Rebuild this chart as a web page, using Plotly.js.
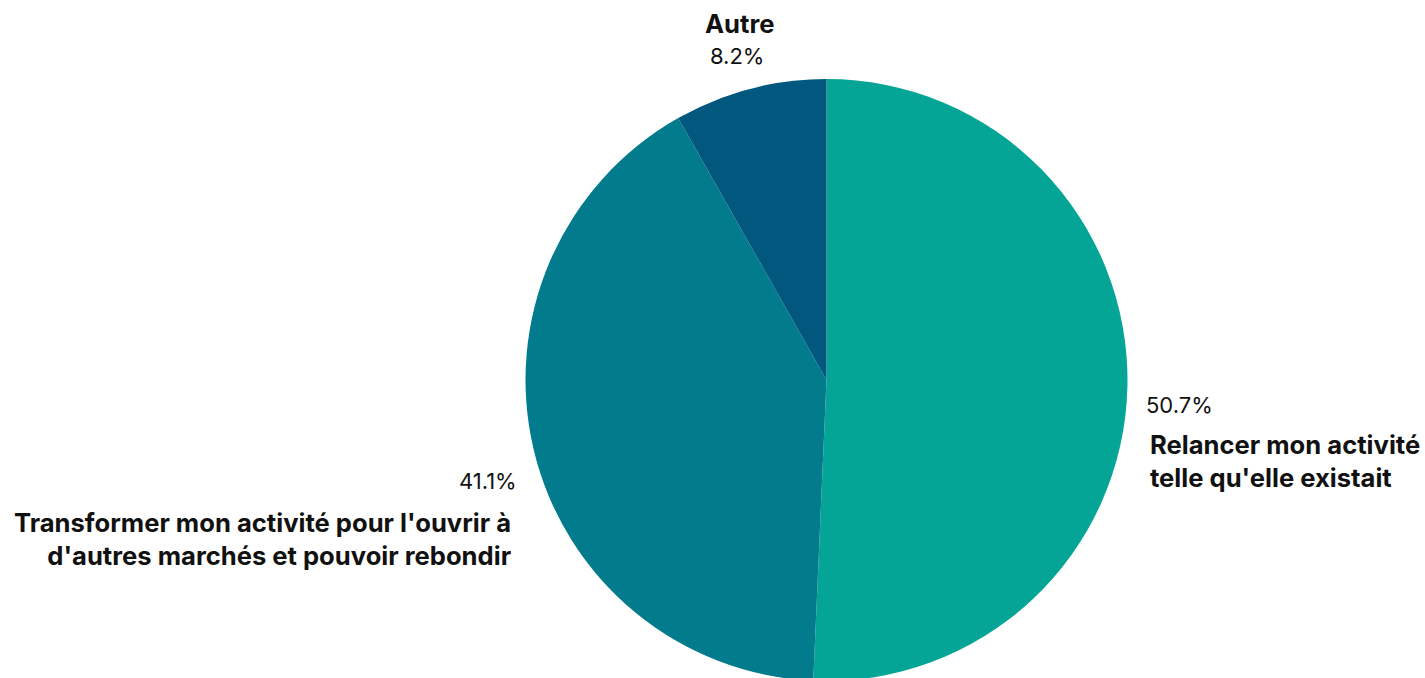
<!DOCTYPE html>
<html>
<head>
<meta charset="utf-8">
<script src="https://cdn.plot.ly/plotly-3.0.1.min.js"></script>
<style>html,body{margin:0;padding:0;background:#fff;overflow:hidden;width:1425px;height:678px;}#chart{width:1425px;height:681px;}</style>
</head>
<body>
<div id="chart"></div>
<script>
const categories = ["Relancer mon activité<br>telle qu'elle existait", "Transformer mon activité pour l'ouvrir à<br>d'autres marchés et pouvoir rebondir", "Autre"];
const values = [50.7, 41.1, 8.2];
const colors = ["#04A596", "#027C8C", "#02577E"];

// label placement (pixels) for each category
const labelPos = [
  {xPct: 1144, xName: 1148, yPct: 405, yName: 461, anchor: "left"},
  {xPct: 519, xName: 513, yPct: 481, yName: 539, anchor: "right"},
  {xPct: 737, xName: 740, yPct: 56, yName: 23, anchor: "center"}
];

const W = 1425, H = 681;
const annotations = [];
categories.forEach((c, i) => {
  const p = labelPos[i];
  annotations.push({
    text: values[i].toFixed(1) + "%", xref: "paper", yref: "paper",
    x: p.xPct / W, y: 1 - p.yPct / H, xanchor: p.anchor, yanchor: "middle",
    showarrow: false, font: {family: "Inter, Roboto, sans-serif", size: 22, color: "#111"}
  });
  annotations.push({
    text: "<b>" + c + "</b>", xref: "paper", yref: "paper",
    x: p.xName / W, y: 1 - p.yName / H, xanchor: p.anchor, yanchor: "middle", align: p.anchor,
    showarrow: false, font: {family: "Inter, Roboto, sans-serif", size: 25.6, color: "#111"}
  });
});

const data = [{
  type: "pie",
  labels: categories,
  values: values,
  sort: false,
  direction: "clockwise",
  rotation: 0,
  marker: {colors: colors, line: {width: 0}},
  textinfo: "none",
  hoverinfo: "label+percent",
  domain: {x: [0.2, 0.96], y: [0, 0.884]},
  showlegend: false
}];

const layout = {
  width: W, height: H,
  margin: {l: 0, r: 0, t: 0, b: 0},
  paper_bgcolor: "#fff",
  plot_bgcolor: "#fff",
  annotations: annotations
};

Plotly.newPlot("chart", data, layout, {displayModeBar: false, staticPlot: true});
</script>
</body>
</html>
